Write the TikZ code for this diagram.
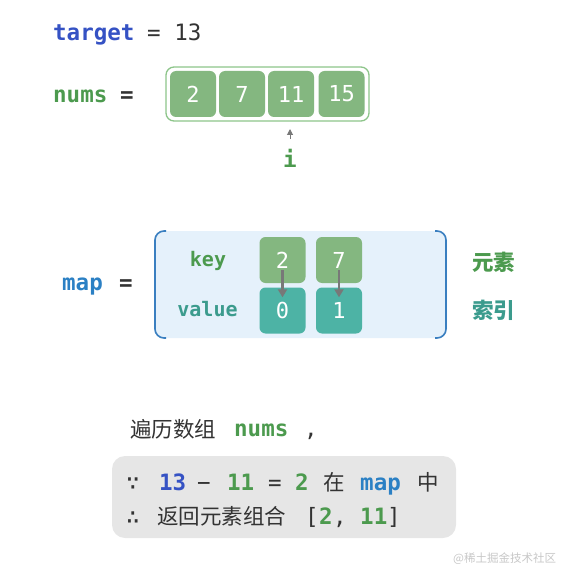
\documentclass[tikz,border=0pt]{standalone}
\usepackage{fontspec}
\setmonofont{DejaVu Sans Mono}
\newfontfamily\cjk{Noto Sans CJK SC}
\usetikzlibrary{arrows.meta}
\definecolor{tblue}{HTML}{3552C4}
\definecolor{tgreen}{HTML}{4C9A4E}
\definecolor{tdark}{HTML}{333333}
\definecolor{cellg}{HTML}{84B780}
\definecolor{cellt}{HTML}{4DB3A5}
\definecolor{tteal}{HTML}{3B9B8D}
\definecolor{mblue}{HTML}{2B80C4}
\definecolor{mapfill}{HTML}{E5F1FB}
\definecolor{mapedge}{HTML}{3A7FC0}
\definecolor{numsedge}{HTML}{8DC58A}
\definecolor{boxgray}{HTML}{E6E6E6}
\definecolor{arrgray}{HTML}{787878}
\tikzset{
  mono/.style={font=\ttfamily\fontsize{22.5}{26}\selectfont, inner sep=0pt, anchor=base west},
  monob/.style={font=\ttfamily\bfseries\fontsize{22.5}{26}\selectfont, inner sep=0pt, anchor=base west},
  monobs/.style={font=\ttfamily\bfseries\fontsize{20}{24}\selectfont, inner sep=0pt, anchor=base west},
  cjkt/.style={font=\cjk\fontsize{21.5}{25}\selectfont, inner sep=0pt, anchor=base west},
  cjkb/.style={font=\cjk\bfseries\fontsize{21.5}{25}\selectfont, inner sep=0pt, anchor=base west},
  cell/.style={rounded corners=6pt, minimum width=46pt, minimum height=46pt, inner sep=0pt,
    text=white, font=\ttfamily\fontsize{22}{26}\selectfont},
  gcell/.style={cell, fill=cellg},
  tcell/.style={cell, fill=cellt},
  link/.style={draw=arrgray, line width=2.8pt, -{Triangle[length=8pt,width=9pt]}},
}
\begin{document}
\begin{tikzpicture}[x=1pt,y=-1pt]
\useasboundingbox (0,0) rectangle (563,569);
% target
\node[monob, text=tblue] (tgt) at (53,41) {target};
\node[mono, text=tdark] (tgteq) at (147,41) {= 13};
% nums
\node[monob, text=tgreen] (nums) at (53,103) {nums};
\node[monob, text=tdark] (numseq) at (120,103) {=};
\draw[numsedge, line width=1.3pt, fill=white, rounded corners=8pt] (166,67) rectangle (369,121);
\node[gcell] (n0) at (193,94) {2};
\node[gcell] (n1) at (242,94) {7};
\node[gcell] (n2) at (291,94) {11};
\node[gcell] (n3) at (341.5,94) {15};
\node[monob, text=tgreen, anchor=base] (iv) at (290,168) {i};
\coordinate (itip) at (290,129);
\draw[draw=arrgray, line width=1pt, -{Triangle[length=6pt,width=6pt]}] (290,139) -- (itip);
% map
\node[monob, text=mblue] (map) at (62,290) {map};
\node[monob, text=tdark] (mapeq) at (119,290) {=};
\fill[mapfill, rounded corners=9pt] (154,231) rectangle (447,338);
\draw[mapedge, line width=1.6pt, rounded corners=9pt] (166,231) -- (155,231) -- (155,338) -- (166,338);
\draw[mapedge, line width=1.6pt, rounded corners=9pt] (435,231) -- (446,231) -- (446,338) -- (435,338);
\node[monobs, text=tgreen, anchor=base] (key) at (208,266) {key};
\node[monobs, text=tteal, anchor=base] (val) at (207.5,316) {value};
\node[gcell] (k0) at (282.5,260) {2};
\node[gcell] (k1) at (339,260) {7};
\node[tcell] (v0) at (282.5,310.5) {0};
\node[tcell] (v1) at (339,310.5) {1};
\draw[link] ([yshift=-10pt]k0.center) -- ([yshift=-10pt]v0.north);
\draw[link] ([yshift=-10pt]k1.center) -- ([yshift=-10pt]v1.north);
\node[cjkb, text=tgreen] (elem) at (472,270) {元素};
\node[cjkb, text=tteal] (idx) at (472,318) {索引};
% traversal text
\node[cjkt, text=tdark] (trav) at (130,437) {遍历数组};
\node[monob, text=tgreen] (tnums) at (234,436) {nums};
\node[mono, text=tdark] (tcomma) at (304,436) {,};
% gray box
\fill[boxgray, rounded corners=13pt] (112,456) rectangle (456,538);
\node[mono, text=tdark] (because) at (126,490) {∵};
\node[monob, text=tblue] (a13) at (159,490) {13};
\node[mono, text=tdark] (minus) at (197,490) {−};
\node[monob, text=tgreen] (a11) at (227,490) {11};
\node[mono, text=tdark] (aeq) at (268,490) {=};
\node[monob, text=tgreen] (a2) at (295,490) {2};
\node[cjkt, text=tdark] (zai) at (323,490) {在};
\node[monob, text=mblue] (amap) at (360,490) {map};
\node[cjkt, text=tdark] (zhong) at (417,490) {中};
\node[mono, text=tdark] (therefore) at (126,524) {∴};
\node[cjkt, text=tdark] (ret) at (157,524) {返回元素组合};
\node[mono, text=tdark] (lb) at (305,524) {[};
\node[monob, text=tgreen] (b2) at (319,524) {2};
\node[mono, text=tdark] (bc) at (333,524) {,};
\node[monob, text=tgreen] (b11) at (360,524) {11};
\node[mono, text=tdark] (rb) at (387,524) {]};
% watermark
\node[font=\cjk\fontsize{11.5}{13}\selectfont, text=black!22, anchor=base west, inner sep=0pt] (wm) at (453,562) {@稀土掘金技术社区};
\end{tikzpicture}
\end{document}
